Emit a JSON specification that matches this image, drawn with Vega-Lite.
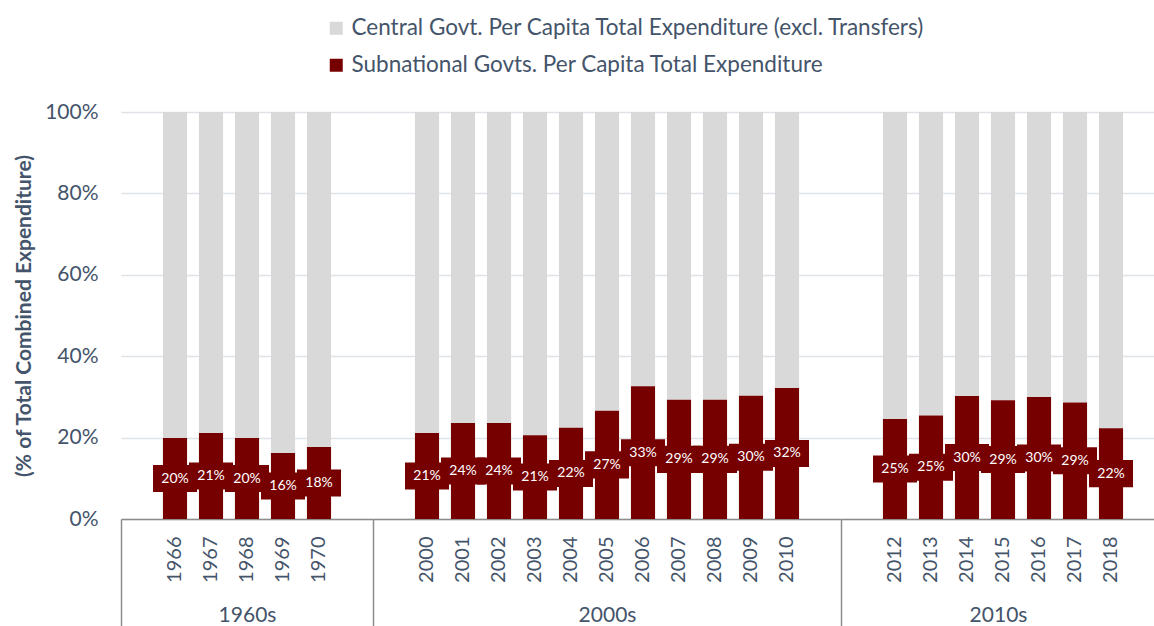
{
  "$schema": "https://vega.github.io/schema/vega-lite/v6.json",
  "padding": {"left": 13, "top": 17, "right": 0, "bottom": 0},
  "spacing": 0,
  "bounds": "flush",
  "config": {
    "font": "Lato",
    "view": {"stroke": null},
    "axisX": {
      "labelAngle": -90, "labelFontSize": 20, "labelColor": "#44546a", "labelPadding": -90,
      "ticks": true, "tickSize": 107, "tickColor": "#8c8c8c", "tickWidth": 1.5, "bandPosition": 0,
      "domainColor": "#8c8c8c", "domainWidth": 1.5, "grid": false,
      "titleFontSize": 21, "titleFontWeight": "normal", "titleColor": "#44546a", "titleY": 102, "titleBaseline": "alphabetic"
    },
    "axisY": {
      "grid": true, "gridColor": "#dfe3e8", "gridWidth": 1.5,
      "ticks": false, "domain": false
    }
  },
  "data": {"values": [
    {"decade": "1960s", "year": "1966", "sub": 0.199, "central": 0.801},
    {"decade": "1960s", "year": "1967", "sub": 0.211, "central": 0.789},
    {"decade": "1960s", "year": "1968", "sub": 0.199, "central": 0.801},
    {"decade": "1960s", "year": "1969", "sub": 0.162, "central": 0.838},
    {"decade": "1960s", "year": "1970", "sub": 0.177, "central": 0.823},
    {"decade": "2000s", "year": "2000", "sub": 0.211, "central": 0.789},
    {"decade": "2000s", "year": "2001", "sub": 0.236, "central": 0.764},
    {"decade": "2000s", "year": "2002", "sub": 0.236, "central": 0.764},
    {"decade": "2000s", "year": "2003", "sub": 0.206, "central": 0.794},
    {"decade": "2000s", "year": "2004", "sub": 0.224, "central": 0.776},
    {"decade": "2000s", "year": "2005", "sub": 0.266, "central": 0.734},
    {"decade": "2000s", "year": "2006", "sub": 0.326, "central": 0.674},
    {"decade": "2000s", "year": "2007", "sub": 0.293, "central": 0.707},
    {"decade": "2000s", "year": "2008", "sub": 0.293, "central": 0.707},
    {"decade": "2000s", "year": "2009", "sub": 0.303, "central": 0.697},
    {"decade": "2000s", "year": "2010", "sub": 0.322, "central": 0.678},
    {"decade": "2010s", "year": "2012", "sub": 0.246, "central": 0.754},
    {"decade": "2010s", "year": "2013", "sub": 0.254, "central": 0.746},
    {"decade": "2010s", "year": "2014", "sub": 0.302, "central": 0.698},
    {"decade": "2010s", "year": "2015", "sub": 0.292, "central": 0.708},
    {"decade": "2010s", "year": "2016", "sub": 0.300, "central": 0.700},
    {"decade": "2010s", "year": "2017", "sub": 0.286, "central": 0.714},
    {"decade": "2010s", "year": "2018", "sub": 0.223, "central": 0.777}
  ]},
  "hconcat": [
    {
      "width": 252, "height": 407,
      "transform": [{"filter": "datum.decade == '1960s'"}, {"fold": ["central", "sub"], "as": ["series", "value"]}],
      "encoding": {
        "x": {"field": "year", "type": "nominal",
          "scale": {"domain": [" ", "1966", "1967", "1968", "1969", "1970", "  "], "paddingInner": 0, "paddingOuter": 0},
          "axis": {"title": "1960s", "tickOpacity": {"condition": {"test": "datum.value == ' '", "value": 1}, "value": 0}}}
      },
      "layer": [
        {
          "mark": {"type": "bar", "width": {"band": 0.67}},
          "encoding": {
            "y": {"field": "value", "type": "quantitative", "stack": "zero", "scale": {"domain": [0, 1]},
              "axis": {"values": [0, 0.2, 0.4, 0.6, 0.8, 1], "format": ".0%", "labelFontSize": 21, "labelColor": "#44546a", "labelPadding": 23,
                "title": "(% of Total Combined Expenditure)", "titleFontSize": 21, "titleFontWeight": "bold", "titleColor": "#44546a", "titlePadding": 10}},
            "color": {"field": "series", "type": "nominal",
              "scale": {"domain": ["central", "sub"], "range": ["#d9d9d9", "#760000"]},
              "legend": {"orient": "none", "legendX": 204, "legendY": -95, "direction": "vertical", "title": null,
                "symbolType": "square", "symbolSize": 169, "symbolStrokeWidth": 0, "labelFontSize": 22.5, "labelColor": "#44546a",
                "labelLimit": 1000, "labelOffset": 4, "rowPadding": 14,
                "labelExpr": "datum.value == 'central' ? 'Central Govt. Per Capita Total Expenditure (excl. Transfers)' : 'Subnational Govts. Per Capita Total Expenditure'"}},
            "order": {"field": "series", "sort": "descending"}
          }
        },
        {
          "transform": [{"filter": "datum.series == 'sub'"}],
          "encoding": {"y": {"field": "value", "type": "quantitative", "scale": {"domain": [0, 2]}, "axis": null}},
          "layer": [
            {"mark": {"type": "point", "shape": "M-1,-0.614H1V0.614H-1Z", "filled": true, "size": 1936, "color": "#760000", "opacity": 1, "strokeWidth": 0}},
            {"mark": {"type": "text", "color": "white", "fontSize": 14, "baseline": "middle"}, "encoding": {"text": {"field": "value", "type": "quantitative", "format": ".0%"}}}
          ]
        }
      ],
      "resolve": {"scale": {"y": "independent"}}
    },
    {
      "width": 468, "height": 407,
      "transform": [{"filter": "datum.decade == '2000s'"}, {"fold": ["central", "sub"], "as": ["series", "value"]}],
      "encoding": {
        "x": {"field": "year", "type": "nominal",
          "scale": {"domain": [" ", "2000", "2001", "2002", "2003", "2004", "2005", "2006", "2007", "2008", "2009", "2010", "  "], "paddingInner": 0, "paddingOuter": 0},
          "axis": {"title": "2000s", "tickOpacity": {"condition": {"test": "datum.value == ' '", "value": 1}, "value": 0}}}
      },
      "layer": [
        {
          "mark": {"type": "bar", "width": {"band": 0.67}},
          "encoding": {
            "y": {"field": "value", "type": "quantitative", "stack": "zero", "scale": {"domain": [0, 1]},
              "axis": {"values": [0, 0.2, 0.4, 0.6, 0.8, 1], "labels": false, "title": null}},
            "color": {"field": "series", "type": "nominal"},
            "order": {"field": "series", "sort": "descending"}
          }
        },
        {
          "transform": [{"filter": "datum.series == 'sub'"}],
          "encoding": {"y": {"field": "value", "type": "quantitative", "scale": {"domain": [0, 2]}, "axis": null}},
          "layer": [
            {"mark": {"type": "point", "shape": "M-1,-0.614H1V0.614H-1Z", "filled": true, "size": 1936, "color": "#760000", "opacity": 1, "strokeWidth": 0}},
            {"mark": {"type": "text", "color": "white", "fontSize": 14, "baseline": "middle"}, "encoding": {"text": {"field": "value", "type": "quantitative", "format": ".0%"}}}
          ]
        }
      ],
      "resolve": {"scale": {"y": "independent"}}
    },
    {
      "width": 314, "height": 407,
      "transform": [{"filter": "datum.decade == '2010s'"}, {"fold": ["central", "sub"], "as": ["series", "value"]}],
      "encoding": {
        "x": {"field": "year", "type": "nominal",
          "scale": {"domain": [" ", "2012", "2013", "2014", "2015", "2016", "2017", "2018"], "paddingInner": 0, "paddingOuter": 0.361, "align": 0},
          "axis": {"title": "2010s", "tickOpacity": {"condition": {"test": "datum.value == ' '", "value": 1}, "value": 0}}}
      },
      "layer": [
        {
          "mark": {"type": "bar", "width": {"band": 0.67}},
          "encoding": {
            "y": {"field": "value", "type": "quantitative", "stack": "zero", "scale": {"domain": [0, 1]},
              "axis": {"values": [0, 0.2, 0.4, 0.6, 0.8, 1], "labels": false, "title": null}},
            "color": {"field": "series", "type": "nominal"},
            "order": {"field": "series", "sort": "descending"}
          }
        },
        {
          "transform": [{"filter": "datum.series == 'sub'"}],
          "encoding": {"y": {"field": "value", "type": "quantitative", "scale": {"domain": [0, 2]}, "axis": null}},
          "layer": [
            {"mark": {"type": "point", "shape": "M-1,-0.614H1V0.614H-1Z", "filled": true, "size": 1936, "color": "#760000", "opacity": 1, "strokeWidth": 0}},
            {"mark": {"type": "text", "color": "white", "fontSize": 14, "baseline": "middle"}, "encoding": {"text": {"field": "value", "type": "quantitative", "format": ".0%"}}}
          ]
        }
      ],
      "resolve": {"scale": {"y": "independent"}}
    }
  ]
}
